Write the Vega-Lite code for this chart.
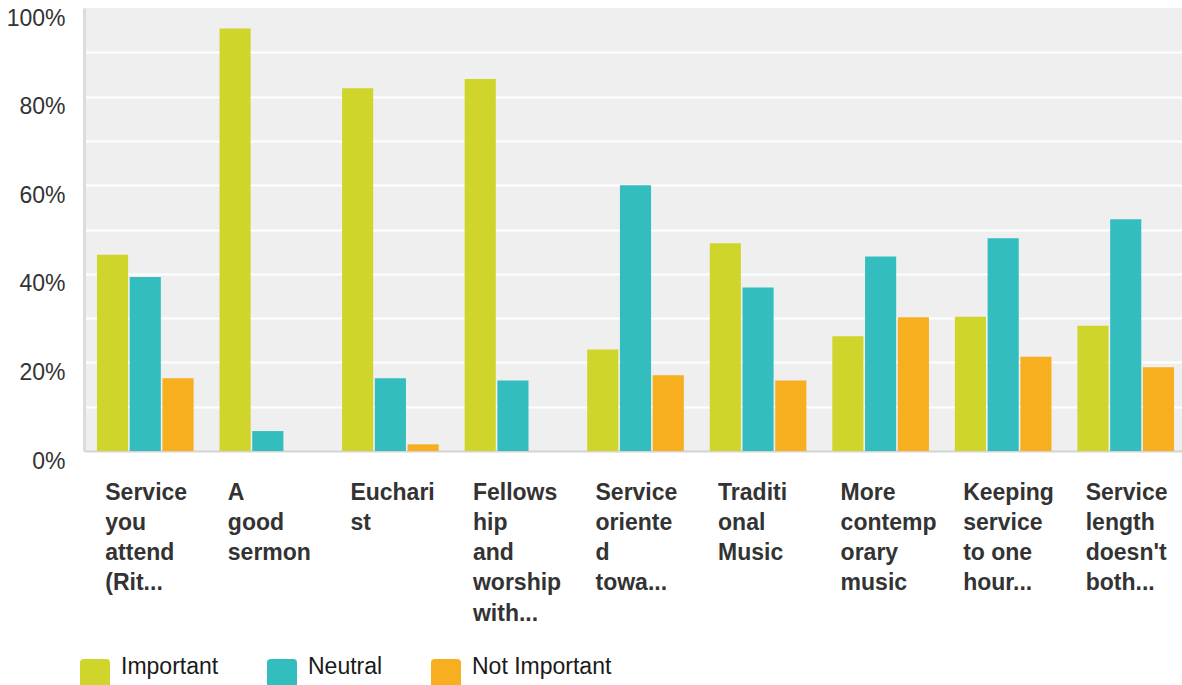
{
  "$schema": "https://vega.github.io/schema/vega-lite/v6.json",
  "autosize": {"type": "none"},
  "padding": {"left": 84, "top": 8, "right": 0, "bottom": 234},
  "width": 1098,
  "height": 443,
  "background": "#ffffff",
  "config": {
    "view": {"fill": "#efefef", "stroke": null},
    "font": "Liberation Sans"
  },
  "data": {
    "values": [
      {"question": "Service you attend (Rit...", "rating": "Important", "share": 0.443},
      {"question": "Service you attend (Rit...", "rating": "Neutral", "share": 0.393},
      {"question": "Service you attend (Rit...", "rating": "Not Important", "share": 0.164},
      {"question": "A good sermon", "rating": "Important", "share": 0.954},
      {"question": "A good sermon", "rating": "Neutral", "share": 0.045},
      {"question": "A good sermon", "rating": "Not Important", "share": 0.0},
      {"question": "Eucharist", "rating": "Important", "share": 0.819},
      {"question": "Eucharist", "rating": "Neutral", "share": 0.164},
      {"question": "Eucharist", "rating": "Not Important", "share": 0.015},
      {"question": "Fellowship and worship with...", "rating": "Important", "share": 0.840},
      {"question": "Fellowship and worship with...", "rating": "Neutral", "share": 0.159},
      {"question": "Fellowship and worship with...", "rating": "Not Important", "share": 0.0},
      {"question": "Service oriented towa...", "rating": "Important", "share": 0.229},
      {"question": "Service oriented towa...", "rating": "Neutral", "share": 0.600},
      {"question": "Service oriented towa...", "rating": "Not Important", "share": 0.171},
      {"question": "Traditional Music", "rating": "Important", "share": 0.469},
      {"question": "Traditional Music", "rating": "Neutral", "share": 0.369},
      {"question": "Traditional Music", "rating": "Not Important", "share": 0.159},
      {"question": "More contemporary music", "rating": "Important", "share": 0.259},
      {"question": "More contemporary music", "rating": "Neutral", "share": 0.439},
      {"question": "More contemporary music", "rating": "Not Important", "share": 0.302},
      {"question": "Keeping service to one hour...", "rating": "Important", "share": 0.303},
      {"question": "Keeping service to one hour...", "rating": "Neutral", "share": 0.480},
      {"question": "Keeping service to one hour...", "rating": "Not Important", "share": 0.213},
      {"question": "Service length doesn't both...", "rating": "Important", "share": 0.283},
      {"question": "Service length doesn't both...", "rating": "Neutral", "share": 0.523},
      {"question": "Service length doesn't both...", "rating": "Not Important", "share": 0.189}
    ]
  },
  "mark": {"type": "bar"},
  "encoding": {
    "x": {
      "field": "question",
      "type": "nominal",
      "sort": null,
      "scale": {"range": [0, 1103], "paddingInner": 0, "paddingOuter": 0},
      "axis": {
        "title": null,
        "ticks": false,
        "domain": true,
        "domainColor": "#d3d3d3",
        "domainWidth": 2,
        "labelAngle": 0,
        "labelAlign": "left",
        "labelBaseline": "top",
        "labelOffset": -40,
        "labelPadding": 30,
        "labelFontSize": 23,
        "labelFontWeight": "bold",
        "labelColor": "#333333",
        "labelLineHeight": 30.3,
        "labelLimit": 0,
        "labelOverlap": false,
        "labelFlush": false,
        "labelExpr": "datum.value == 'Eucharist' ? ['Euchari','st'] : datum.value == 'Fellowship and worship with...' ? ['Fellows','hip','and','worship','with...'] : datum.value == 'Service oriented towa...' ? ['Service','oriente','d','towa...'] : datum.value == 'Traditional Music' ? ['Traditi','onal','Music'] : datum.value == 'More contemporary music' ? ['More','contemp','orary','music'] : datum.value == 'Keeping service to one hour...' ? ['Keeping','service','to one','hour...'] : split(datum.value, ' ')"
      }
    },
    "xOffset": {
      "field": "rating",
      "type": "nominal",
      "sort": ["Important", "Neutral", "Not Important"],
      "scale": {"paddingInner": 0.05, "paddingOuter": 0.396}
    },
    "y": {
      "field": "share",
      "type": "quantitative",
      "scale": {"domain": [0, 1], "nice": false},
      "axis": {
        "title": null,
        "values": [0, 0.1, 0.2, 0.3, 0.4, 0.5, 0.6, 0.7, 0.8, 0.9, 1],
        "ticks": false,
        "domain": true,
        "domainColor": "#dcdcdc",
        "domainWidth": 3,
        "grid": true,
        "gridColor": {"condition": {"test": "datum.value <= 0 || datum.value >= 1", "value": "transparent"}, "value": "#ffffff"},
        "gridWidth": 2,
        "labelExpr": "round(datum.value * 10) % 2 == 0 ? format(datum.value, '.0%') : ''",
        "labelFontSize": 23,
        "labelColor": "#333333",
        "labelPadding": 19,
        "labelOffset": 10
      }
    },
    "color": {
      "field": "rating",
      "type": "nominal",
      "sort": ["Important", "Neutral", "Not Important"],
      "scale": {"domain": ["Important", "Neutral", "Not Important"], "range": ["#cfd52a", "#33bdbf", "#f7ae1f"]},
      "legend": {
        "title": null,
        "orient": "none",
        "direction": "horizontal",
        "legendX": -4,
        "legendY": 651,
        "padding": 0,
        "symbolType": "M-0.75,-1 H0.75 Q1,-1 1,-0.75 V0.75 Q1,1 0.75,1 H-0.75 Q-1,1 -1,0.75 V-0.75 Q-1,-1 -0.75,-1 Z",
        "symbolSize": 900,
        "symbolStrokeWidth": 0,
        "symbolOpacity": 1,
        "labelFontSize": 23,
        "labelColor": "#1a1a1a",
        "labelOffset": 11,
        "labelBaseline": "alphabetic",
        "columnPadding": 48,
        "labelLimit": 0
      }
    }
  }
}
